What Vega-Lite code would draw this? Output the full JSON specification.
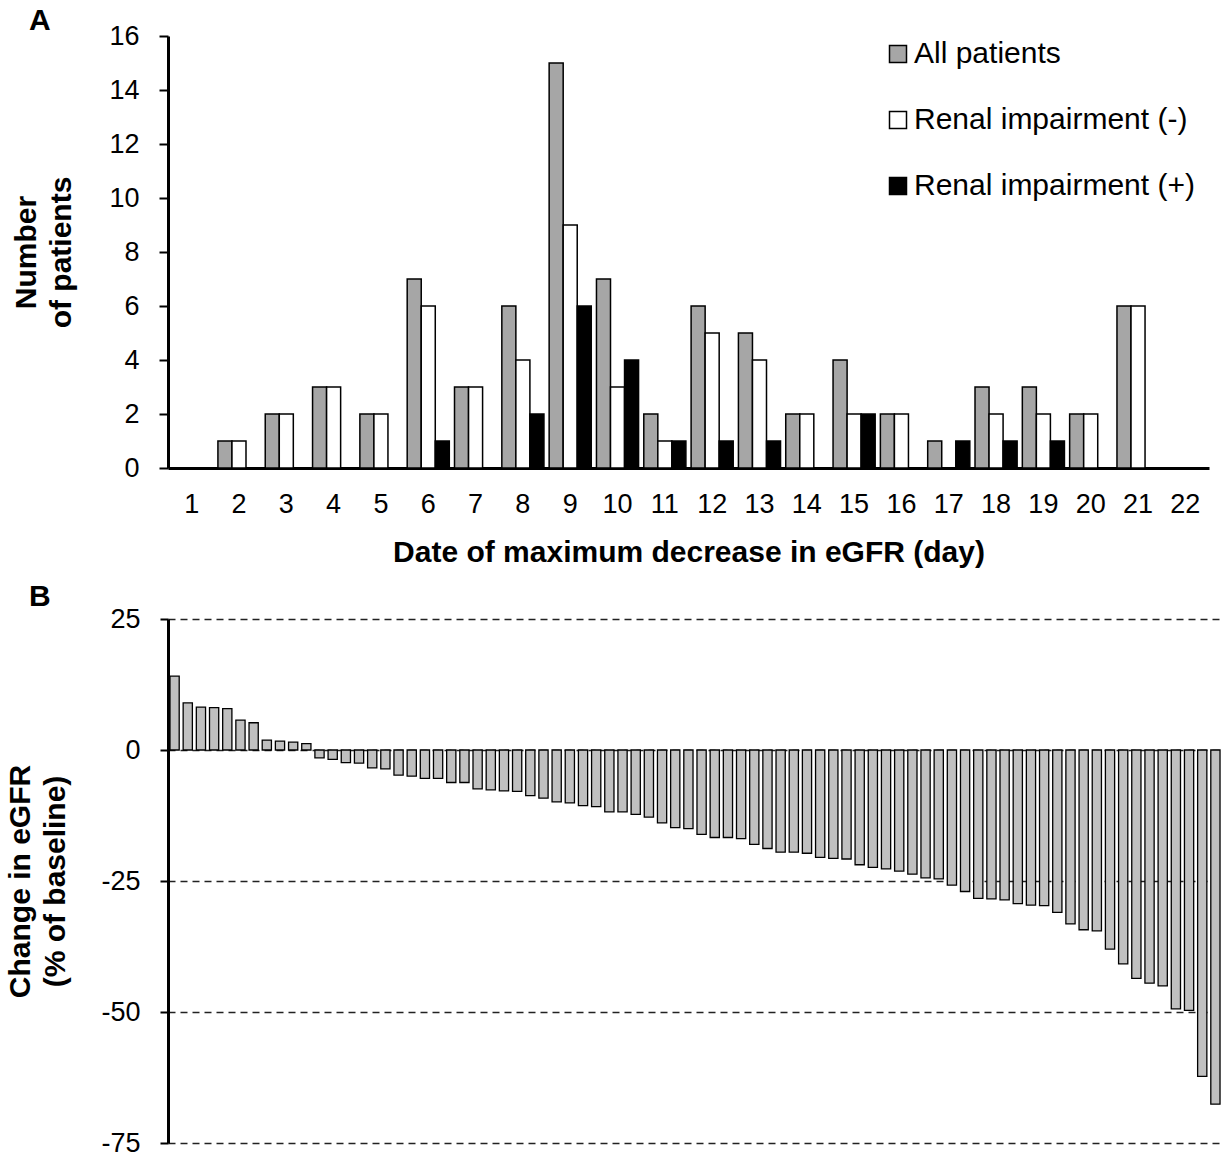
{
  "$schema": "https://vega.github.io/schema/vega-lite/v6.json",
  "padding": {"left": 5, "top": 6, "right": 5, "bottom": 0},
  "config": {
    "font": "Liberation Sans",
    "view": {"stroke": null},
    "axis": {"labelColor": "black", "titleColor": "black", "domainColor": "black", "tickColor": "black"}
  },
  "spacing": 15,
  "vconcat": [
    {
      "width": 1041,
      "height": 432,
      "title": {"text": "A", "anchor": "start", "frame": "group", "fontSize": 30, "fontWeight": "bold", "color": "black", "dx": -139, "offset": -14},
      "data": {"values": [
        {"day": 1, "group": "All patients", "n": 0}, {"day": 1, "group": "Renal impairment (-)", "n": 0}, {"day": 1, "group": "Renal impairment (+)", "n": 0},
        {"day": 2, "group": "All patients", "n": 1}, {"day": 2, "group": "Renal impairment (-)", "n": 1}, {"day": 2, "group": "Renal impairment (+)", "n": 0},
        {"day": 3, "group": "All patients", "n": 2}, {"day": 3, "group": "Renal impairment (-)", "n": 2}, {"day": 3, "group": "Renal impairment (+)", "n": 0},
        {"day": 4, "group": "All patients", "n": 3}, {"day": 4, "group": "Renal impairment (-)", "n": 3}, {"day": 4, "group": "Renal impairment (+)", "n": 0},
        {"day": 5, "group": "All patients", "n": 2}, {"day": 5, "group": "Renal impairment (-)", "n": 2}, {"day": 5, "group": "Renal impairment (+)", "n": 0},
        {"day": 6, "group": "All patients", "n": 7}, {"day": 6, "group": "Renal impairment (-)", "n": 6}, {"day": 6, "group": "Renal impairment (+)", "n": 1},
        {"day": 7, "group": "All patients", "n": 3}, {"day": 7, "group": "Renal impairment (-)", "n": 3}, {"day": 7, "group": "Renal impairment (+)", "n": 0},
        {"day": 8, "group": "All patients", "n": 6}, {"day": 8, "group": "Renal impairment (-)", "n": 4}, {"day": 8, "group": "Renal impairment (+)", "n": 2},
        {"day": 9, "group": "All patients", "n": 15}, {"day": 9, "group": "Renal impairment (-)", "n": 9}, {"day": 9, "group": "Renal impairment (+)", "n": 6},
        {"day": 10, "group": "All patients", "n": 7}, {"day": 10, "group": "Renal impairment (-)", "n": 3}, {"day": 10, "group": "Renal impairment (+)", "n": 4},
        {"day": 11, "group": "All patients", "n": 2}, {"day": 11, "group": "Renal impairment (-)", "n": 1}, {"day": 11, "group": "Renal impairment (+)", "n": 1},
        {"day": 12, "group": "All patients", "n": 6}, {"day": 12, "group": "Renal impairment (-)", "n": 5}, {"day": 12, "group": "Renal impairment (+)", "n": 1},
        {"day": 13, "group": "All patients", "n": 5}, {"day": 13, "group": "Renal impairment (-)", "n": 4}, {"day": 13, "group": "Renal impairment (+)", "n": 1},
        {"day": 14, "group": "All patients", "n": 2}, {"day": 14, "group": "Renal impairment (-)", "n": 2}, {"day": 14, "group": "Renal impairment (+)", "n": 0},
        {"day": 15, "group": "All patients", "n": 4}, {"day": 15, "group": "Renal impairment (-)", "n": 2}, {"day": 15, "group": "Renal impairment (+)", "n": 2},
        {"day": 16, "group": "All patients", "n": 2}, {"day": 16, "group": "Renal impairment (-)", "n": 2}, {"day": 16, "group": "Renal impairment (+)", "n": 0},
        {"day": 17, "group": "All patients", "n": 1}, {"day": 17, "group": "Renal impairment (-)", "n": 0}, {"day": 17, "group": "Renal impairment (+)", "n": 1},
        {"day": 18, "group": "All patients", "n": 3}, {"day": 18, "group": "Renal impairment (-)", "n": 2}, {"day": 18, "group": "Renal impairment (+)", "n": 1},
        {"day": 19, "group": "All patients", "n": 3}, {"day": 19, "group": "Renal impairment (-)", "n": 2}, {"day": 19, "group": "Renal impairment (+)", "n": 1},
        {"day": 20, "group": "All patients", "n": 2}, {"day": 20, "group": "Renal impairment (-)", "n": 2}, {"day": 20, "group": "Renal impairment (+)", "n": 0},
        {"day": 21, "group": "All patients", "n": 6}, {"day": 21, "group": "Renal impairment (-)", "n": 6}, {"day": 21, "group": "Renal impairment (+)", "n": 0},
        {"day": 22, "group": "All patients", "n": 0}, {"day": 22, "group": "Renal impairment (-)", "n": 0}, {"day": 22, "group": "Renal impairment (+)", "n": 0}
      ]},
      "mark": {"type": "bar", "stroke": "black", "strokeWidth": 1.5},
      "encoding": {
        "x": {
          "field": "day", "type": "ordinal",
          "scale": {"paddingInner": 0.11, "paddingOuter": 0.055},
          "axis": {
            "title": "Date of maximum decrease in eGFR (day)",
            "titleFontSize": 30, "titleFontWeight": "bold", "titlePadding": 20,
            "labelAngle": 0, "labelFontSize": 27, "labelPadding": 23,
            "ticks": false, "tickSize": 0, "domainWidth": 3
          }
        },
        "xOffset": {"field": "group", "type": "nominal", "sort": ["All patients", "Renal impairment (-)", "Renal impairment (+)"]},
        "y": {
          "field": "n", "type": "quantitative",
          "scale": {"domain": [0, 16], "nice": false},
          "axis": {
            "values": [0, 2, 4, 6, 8, 10, 12, 14, 16],
            "title": ["Number", "of patients"],
            "titleFontSize": 30, "titleFontWeight": "bold", "titleLineHeight": 35, "titlePadding": 32,
            "labelFontSize": 27, "labelPadding": 20,
            "tickSize": 9, "tickWidth": 2, "domainWidth": 3, "grid": false
          }
        },
        "color": {
          "field": "group", "type": "nominal",
          "scale": {"domain": ["All patients", "Renal impairment (-)", "Renal impairment (+)"], "range": ["#a6a6a6", "#ffffff", "#000000"]},
          "legend": {
            "title": null, "orient": "none", "legendX": 715, "legendY": 3, "padding": 0,
            "symbolType": "square", "symbolSize": 289, "symbolStrokeColor": "black", "symbolStrokeWidth": 1.5, "symbolOpacity": 1,
            "labelFontSize": 30, "labelColor": "black", "labelOffset": 1, "labelLimit": 0, "rowPadding": 36
          }
        }
      }
    },
    {
      "width": 1054,
      "height": 524,
      "title": {"text": "B", "anchor": "start", "frame": "group", "fontSize": 30, "fontWeight": "bold", "color": "black", "dx": -139, "offset": -7},
      "data": {"values": [
        {"rank": 1, "change": 14.1}, {"rank": 2, "change": 9.0}, {"rank": 3, "change": 8.2}, {"rank": 4, "change": 8.1},
        {"rank": 5, "change": 7.9}, {"rank": 6, "change": 5.7}, {"rank": 7, "change": 5.2}, {"rank": 8, "change": 1.9},
        {"rank": 9, "change": 1.7}, {"rank": 10, "change": 1.5}, {"rank": 11, "change": 1.2}, {"rank": 12, "change": null},
        {"rank": 13, "change": null}, {"rank": 14, "change": -1.5}, {"rank": 15, "change": -1.8}, {"rank": 16, "change": -2.4},
        {"rank": 17, "change": -2.5}, {"rank": 18, "change": -3.4}, {"rank": 19, "change": -3.6}, {"rank": 20, "change": -4.8},
        {"rank": 21, "change": -5.0}, {"rank": 22, "change": -5.4}, {"rank": 23, "change": -5.4}, {"rank": 24, "change": -6.2},
        {"rank": 25, "change": -6.2}, {"rank": 26, "change": -7.4}, {"rank": 27, "change": -7.6}, {"rank": 28, "change": -7.8},
        {"rank": 29, "change": -7.9}, {"rank": 30, "change": -8.7}, {"rank": 31, "change": -9.2}, {"rank": 32, "change": -9.9},
        {"rank": 33, "change": -10.1}, {"rank": 34, "change": -10.6}, {"rank": 35, "change": -10.8}, {"rank": 36, "change": -11.8},
        {"rank": 37, "change": -11.8}, {"rank": 38, "change": -12.3}, {"rank": 39, "change": -12.8}, {"rank": 40, "change": -13.9},
        {"rank": 41, "change": -14.8}, {"rank": 42, "change": -15.0}, {"rank": 43, "change": -16.1}, {"rank": 44, "change": -16.7},
        {"rank": 45, "change": -16.7}, {"rank": 46, "change": -16.9}, {"rank": 47, "change": -18.0}, {"rank": 48, "change": -18.8},
        {"rank": 49, "change": -19.5}, {"rank": 50, "change": -19.5}, {"rank": 51, "change": -19.7}, {"rank": 52, "change": -20.5},
        {"rank": 53, "change": -20.7}, {"rank": 54, "change": -20.8}, {"rank": 55, "change": -21.9}, {"rank": 56, "change": -22.4},
        {"rank": 57, "change": -22.7}, {"rank": 58, "change": -23.1}, {"rank": 59, "change": -23.7}, {"rank": 60, "change": -24.4},
        {"rank": 61, "change": -24.6}, {"rank": 62, "change": -25.8}, {"rank": 63, "change": -27.0}, {"rank": 64, "change": -28.3},
        {"rank": 65, "change": -28.4}, {"rank": 66, "change": -28.6}, {"rank": 67, "change": -29.3}, {"rank": 68, "change": -29.6},
        {"rank": 69, "change": -29.7}, {"rank": 70, "change": -31.0}, {"rank": 71, "change": -33.2}, {"rank": 72, "change": -34.3},
        {"rank": 73, "change": -34.5}, {"rank": 74, "change": -38.0}, {"rank": 75, "change": -40.8}, {"rank": 76, "change": -43.6},
        {"rank": 77, "change": -44.5}, {"rank": 78, "change": -45.0}, {"rank": 79, "change": -49.4}, {"rank": 80, "change": -49.7},
        {"rank": 81, "change": -62.3}, {"rank": 82, "change": -67.6}
      ]},
      "mark": {"type": "bar", "fill": "#c0c0c0", "stroke": "black", "strokeWidth": 1.3, "invalid": "break-paths-show-domains"},
      "encoding": {
        "x": {"field": "rank", "type": "ordinal", "scale": {"paddingInner": 0.3, "paddingOuter": 0.15}, "axis": null},
        "y": {
          "field": "change", "type": "quantitative",
          "scale": {"domain": [-75, 25], "nice": false},
          "axis": {
            "values": [25, 0, -25, -50, -75],
            "labelExpr": "datum.value < 0 ? '-' + abs(datum.value) : '' + datum.value",
            "title": ["Change in eGFR", "(% of baseline)"],
            "titleFontSize": 30, "titleFontWeight": "bold", "titleLineHeight": 35, "titlePadding": 30,
            "labelFontSize": 27, "labelPadding": 20,
            "tickSize": 8, "tickWidth": 2, "domainWidth": 3,
            "grid": true, "gridDash": [7, 5], "gridColor": "#222222", "gridWidth": 1.3
          }
        }
      }
    }
  ]
}
